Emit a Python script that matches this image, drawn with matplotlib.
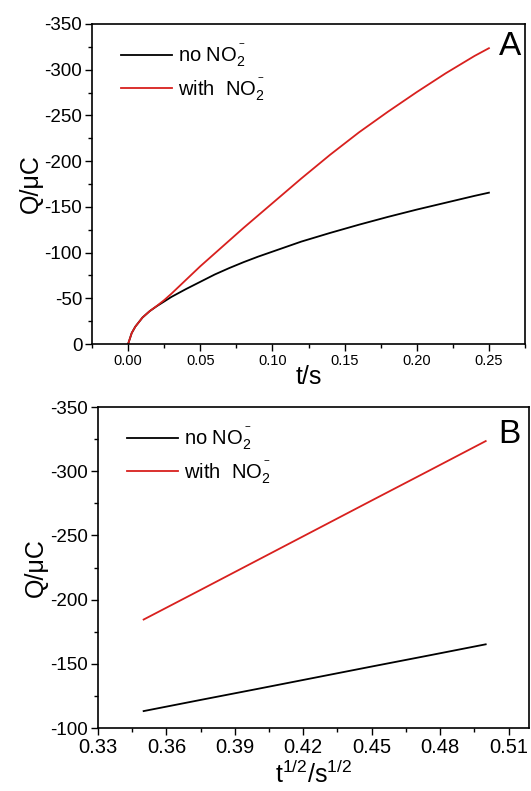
import matplotlib
matplotlib.use("Agg")
import matplotlib.pyplot as plt
from matplotlib.ticker import MultipleLocator, FormatStrFormatter

plt.rcParams['font.family'] = ['Liberation Sans', 'DejaVu Sans']
plt.rcParams['mathtext.fontset'] = 'custom'
plt.rcParams['mathtext.rm'] = 'Liberation Sans'
plt.rcParams['mathtext.it'] = 'Liberation Sans'
plt.rcParams['axes.unicode_minus'] = False

# panel A: charge vs time
t = [0, 0.0025, 0.005, 0.01, 0.015, 0.02, 0.025, 0.03, 0.04, 0.05, 0.06, 0.07,
     0.08, 0.09, 0.10, 0.12, 0.14, 0.16, 0.18, 0.20, 0.22, 0.24, 0.25]
q_no = [0, -12, -19, -29, -36, -41.5, -46.5, -51.5, -60, -68, -76, -83,
        -89.5, -95.5, -101, -112, -121.5, -130.5, -139, -147, -154.5, -162, -165.5]
q_with = [0, -12, -19, -29, -36, -41.8, -48, -55, -70, -85, -99, -113,
          -127, -140.5, -154, -181, -207, -231.5, -254, -275.5, -296, -315, -323.5]

# panel B: charge vs sqrt(t)
sqrt_t = [0.35, 0.375, 0.40, 0.425, 0.45, 0.475, 0.50]
qb_no = [-113.2, -121.9, -130.5, -139.2, -147.9, -156.5, -165.2]
qb_with = [-184.5, -207.6, -230.8, -254, -277.2, -300.3, -323.5]

red = '#d8201e'
lab_no = 'no NO$_2^{^-}$'
lab_with = 'with  NO$_2^{^-}$'

fig = plt.figure(figsize=(5.31, 7.91), dpi=100)
ax1 = fig.add_axes([0.1733, 0.5651, 0.8154, 0.4046])
ax2 = fig.add_axes([0.1846, 0.0796, 0.8117, 0.4058])

ax1.plot(t, q_no, color='black', lw=1.3, label=lab_no)
ax1.plot(t, q_with, color=red, lw=1.3, label=lab_with)
ax1.set_xlim(-0.025, 0.275)
ax1.set_ylim(0, -350)
ax1.xaxis.set_major_locator(MultipleLocator(0.05))
ax1.xaxis.set_minor_locator(MultipleLocator(0.025))
ax1.yaxis.set_major_locator(MultipleLocator(50))
ax1.yaxis.set_minor_locator(MultipleLocator(25))
ax1.xaxis.set_major_formatter(FormatStrFormatter('%.2f'))
ax1.tick_params(axis='x', labelsize=10.5)
ax1.tick_params(axis='y', labelsize=13.5)
ax1.set_xlabel('t/s', fontsize=18, labelpad=-2)
ax1.set_ylabel('Q/\u03bcC', fontsize=18, labelpad=1)
ax1.text(0.965, 0.93, 'A', transform=ax1.transAxes, fontsize=24, ha='center', va='center')

ax2.plot(sqrt_t, qb_no, color='black', lw=1.3, label=lab_no)
ax2.plot(sqrt_t, qb_with, color=red, lw=1.3, label=lab_with)
ax2.set_xlim(0.33, 0.519)
ax2.set_ylim(-100, -350)
ax2.xaxis.set_major_locator(MultipleLocator(0.03))
ax2.xaxis.set_minor_locator(MultipleLocator(0.015))
ax2.yaxis.set_major_locator(MultipleLocator(50))
ax2.yaxis.set_minor_locator(MultipleLocator(25))
ax2.xaxis.set_major_formatter(FormatStrFormatter('%.2f'))
ax2.tick_params(axis='y', labelsize=13.5)
ax2.tick_params(axis='x', labelsize=14.5)
ax2.set_xlabel('t$^{1/2}$/s$^{1/2}$', fontsize=18, labelpad=3)
ax2.set_ylabel('Q/\u03bcC', fontsize=18, labelpad=2)
ax2.text(0.955, 0.915, 'B', transform=ax2.transAxes, fontsize=24, ha='center', va='center')

for ax in (ax1, ax2):
    ax.tick_params(which='major', direction='out', length=5, width=1, top=False, right=False, pad=2)
    ax.tick_params(which='minor', direction='out', length=3, width=1, top=False, right=False)
    for s in ax.spines.values():
        s.set_linewidth(1.2)
    ax.legend(loc='upper left', frameon=False, fontsize=14.5, handlelength=2.5,
              handletextpad=0.3, labelspacing=0.35, borderaxespad=0.3,
              bbox_to_anchor=(0.035, 0.985))

fig.savefig('out.png', dpi=100)
